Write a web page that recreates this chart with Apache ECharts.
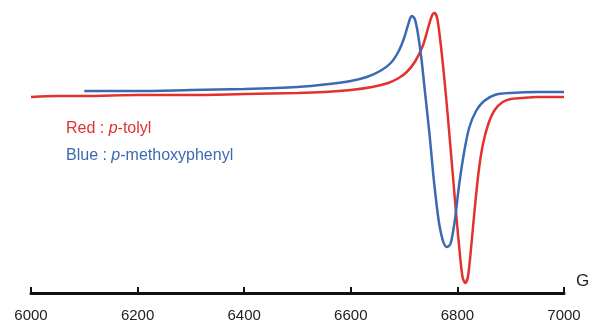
<!DOCTYPE html>
<html lang="en">
<head>
    <meta charset="UTF-8">
    <title>EPR spectra</title>
    <script src="https://cdn.jsdelivr.net/npm/echarts@6/dist/echarts.min.js"></script>
    <style>
        html, body { margin: 0; padding: 0; background: #fff; }
        #main { width: 595px; height: 326px; }
    </style>
</head>
<body>
    <div id="main"></div>
    <script>
        // field (G) and signal (arbitrary units)
        var redField = [6000, 6050, 6100, 6200, 6300, 6400, 6500, 6550, 6600, 6640, 6670, 6690, 6705, 6720, 6735, 6745, 6752, 6757, 6762, 6768, 6775, 6782, 6790, 6798, 6805, 6810, 6815, 6820, 6826, 6833, 6840, 6848, 6858, 6870, 6885, 6900, 6920, 6950, 7000];
        var redSignal = [-1, 0, 0, 1, 1, 2, 3, 4, 6, 9, 13, 18, 24, 34, 50, 68, 80, 83, 78, 55, 20, -20, -70, -120, -160, -182, -187, -180, -150, -110, -75, -48, -28, -14, -6, -3, -2, -1, -1];

        var blueField = [6100, 6200, 6300, 6400, 6500, 6560, 6600, 6630, 6655, 6675, 6690, 6700, 6708, 6714, 6720, 6726, 6733, 6740, 6748, 6756, 6765, 6773, 6780, 6787, 6795, 6803, 6812, 6822, 6835, 6850, 6870, 6900, 6950, 7000];
        var blueSignal = [5, 5, 6, 7, 9, 12, 15, 19, 25, 33, 45, 58, 72, 80, 77, 62, 35, 0, -40, -85, -125, -145, -151, -148, -125, -90, -58, -32, -15, -5, 1, 3, 4, 4];

        var tickValues = [6000, 6200, 6400, 6600, 6800, 7000];

        function pairs(xs, ys) {
            return xs.map(function (x, i) { return [x, ys[i]]; });
        }

        var myChart = echarts.init(document.getElementById('main'));
        var option = {
            animation: false,
            grid: { left: 31, right: 31, top: 10, bottom: 33 },
            xAxis: {
                type: 'value',
                min: 6000,
                max: 7000,
                interval: 200,
                name: 'G',
                nameLocation: 'end',
                nameGap: 12,
                nameTextStyle: { fontFamily: 'Liberation Sans', fontSize: 17, color: '#222', verticalAlign: 'bottom', padding: [0, 0, 3, 0] },
                axisLine: { onZero: false, lineStyle: { color: '#111', width: 3 } },
                axisTick: { inside: true, length: 6, lineStyle: { color: '#111', width: 2 } },
                axisLabel: {
                    margin: 15,
                    fontFamily: 'Liberation Sans',
                    fontSize: 15,
                    color: '#222',
                    formatter: function (v) { return tickValues.indexOf(v) >= 0 ? String(v) : ''; }
                },
                splitLine: { show: false }
            },
            yAxis: {
                type: 'value',
                min: -197,
                max: 86,
                show: false
            },
            series: [{
                type: 'line',
                data: pairs(redField, redSignal),
                smooth: 0.3,
                symbol: 'none',
                lineStyle: { color: '#e3312d', width: 2.5 }
            }, {
                type: 'line',
                data: pairs(blueField, blueSignal),
                smooth: 0.3,
                symbol: 'none',
                lineStyle: { color: '#3b69b3', width: 2.5 }
            }],
            graphic: [{
                type: 'text',
                left: 66,
                top: 121,
                style: {
                    text: 'Red : {i|p}-tolyl',
                    fill: '#e3312d',
                    font: '16px "Liberation Sans"',
                    rich: { i: { fontStyle: 'italic', fontSize: 16, fontFamily: 'Liberation Sans', fill: '#e3312d' } }
                }
            }, {
                type: 'text',
                left: 66,
                top: 148,
                style: {
                    text: 'Blue : {i|p}-methoxyphenyl',
                    fill: '#3b69b3',
                    font: '16px "Liberation Sans"',
                    rich: { i: { fontStyle: 'italic', fontSize: 16, fontFamily: 'Liberation Sans', fill: '#3b69b3' } }
                }
            }]
        };
        myChart.setOption(option);
    </script>
</body>
</html>
